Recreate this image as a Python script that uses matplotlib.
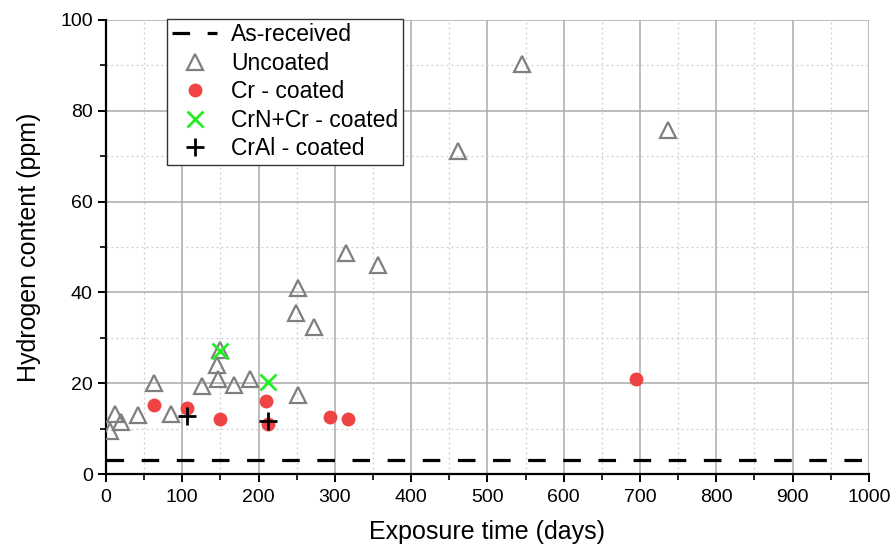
import matplotlib
matplotlib.use("Agg")
import matplotlib.pyplot as plt
from matplotlib.ticker import MultipleLocator

plt.rcParams['font.family'] = ['Liberation Sans', 'DejaVu Sans']

as_received = 3.0

unc_x = [5, 12, 20, 42, 63, 85, 126, 145, 147, 149, 168, 189, 252, 249, 252, 273, 314, 357, 461, 545, 737]
unc_y = [9.4, 13.2, 11.4, 12.9, 20.1, 13.2, 19.4, 24.0, 21.0, 27.3, 19.6, 21.0, 17.5, 35.4, 40.9, 32.4, 48.7, 46.0, 71.2, 90.3, 75.8]

cr_x = [63, 106, 149, 210, 212, 293, 317, 695]
cr_y = [15.2, 14.6, 12.1, 16.1, 11.0, 12.5, 12.1, 21.0]

crn_x = [149, 212]
crn_y = [27.2, 20.2]

cral_x = [106, 212]
cral_y = [12.8, 11.7]

fig = plt.figure(figsize=(8.93, 5.52), dpi=100)
ax = fig.add_axes([0.1187, 0.1413, 0.973 - 0.1187, 0.9638 - 0.1413])

ax.axhline(as_received, color='black', lw=2.3, ls=(0, (5.5, 5.5)), label='As-received', zorder=3)
ax.plot(unc_x, unc_y, ls='none', marker='^', ms=11, mfc='none', mec='#7f7f7f', mew=1.6, label='Uncoated', zorder=4)
ax.plot(cr_x, cr_y, ls='none', marker='o', ms=10, mfc='#f04444', mec='none', label='Cr - coated', zorder=5)
ax.plot(crn_x, crn_y, ls='none', marker='x', ms=12, mec='#22ee22', mew=2, label='CrN+Cr - coated', zorder=6)
ax.plot(cral_x, cral_y, ls='none', marker='+', ms=13, mec='black', mew=2, label='CrAl - coated', zorder=6)

ax.set_xlim(0, 1000)
ax.set_ylim(0, 100)
ax.xaxis.set_major_locator(MultipleLocator(100))
ax.xaxis.set_minor_locator(MultipleLocator(50))
ax.yaxis.set_major_locator(MultipleLocator(20))
ax.yaxis.set_minor_locator(MultipleLocator(10))
ax.grid(which='major', color='#aaaaaa', lw=1.1, ls='-')
ax.grid(which='minor', color='#cccccc', lw=0.9, ls=(0, (1.5, 2.5)))
ax.set_axisbelow(True)

for s in ['top', 'right']:
    ax.spines[s].set_visible(False)
for s in ['left', 'bottom']:
    ax.spines[s].set_linewidth(1.6)
ax.tick_params(which='major', direction='out', length=6, width=1.4, labelsize=14)
ax.tick_params(axis='x', which='major', pad=5)
ax.tick_params(which='minor', direction='out', length=4, width=1.2)

ax.set_xlabel('Exposure time (days)', fontsize=18, labelpad=10)
ax.set_ylabel('Hydrogen content (ppm)', fontsize=18, labelpad=14)

leg = ax.legend(loc='upper left', bbox_to_anchor=(0.08, 1.003), fontsize=16.5, frameon=True,
                fancybox=False, edgecolor='#333333', framealpha=1, borderpad=0.2,
                labelspacing=0.24, handlelength=2.0, handletextpad=0.6, borderaxespad=0)
leg.get_frame().set_linewidth(1.0)

fig.savefig('out.png', dpi=100)
